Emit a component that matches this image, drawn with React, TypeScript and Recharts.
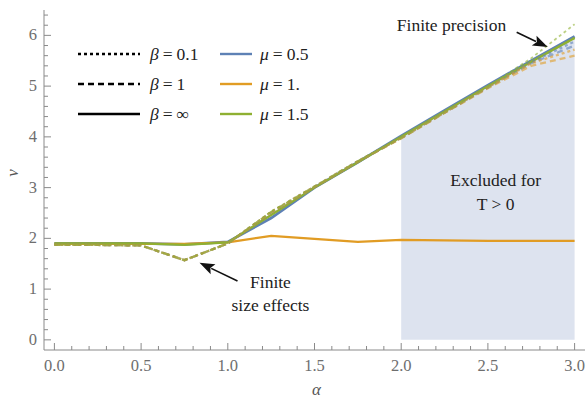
import React from 'react';
import { ComposedChart, Line, Area, XAxis, YAxis, Legend, ReferenceLine, ReferenceDot } from 'recharts';

const ALPHA = [0, 0.25, 0.5, 0.75, 1.0, 1.25, 1.5, 1.75, 2.0, 2.25, 2.5, 2.75, 3.0];

// beta = infinity (solid)
const NU_INF_M05 = [1.9, 1.9, 1.9, 1.88, 1.93, 2.4, 3.0, 3.5, 4.02, 4.52, 5.02, 5.5, 5.98];
const NU_INF_M1 = [1.89, 1.89, 1.89, 1.89, 1.92, 2.05, 1.99, 1.93, 1.97, 1.96, 1.95, 1.95, 1.95];
const NU_INF_M15 = [1.9, 1.9, 1.9, 1.87, 1.92, 2.46, 3.0, 3.5, 4.0, 4.5, 5.0, 5.48, 5.95];
// beta = 0.1 (dotted)
const NU_B01_M05 = [1.87, 1.87, 1.86, 1.57, 1.9, 2.52, 3.02, 3.52, 3.98, 4.48, 4.98, 5.47, 5.88];
const NU_B01_M1 = [1.87, 1.87, 1.86, 1.57, 1.9, 2.52, 3.02, 3.52, 3.98, 4.48, 4.98, 5.45, 5.72];
const NU_B01_M15 = [1.87, 1.87, 1.86, 1.57, 1.9, 2.53, 3.02, 3.52, 3.99, 4.49, 4.99, 5.55, 6.22];
// beta = 1 (dashed)
const NU_B1_M05 = [1.87, 1.87, 1.86, 1.57, 1.9, 2.51, 3.01, 3.51, 3.98, 4.48, 4.97, 5.45, 5.8];
const NU_B1_M1 = [1.87, 1.87, 1.86, 1.57, 1.9, 2.51, 3.01, 3.51, 3.97, 4.47, 4.96, 5.4, 5.6];
const NU_B1_M15 = [1.87, 1.87, 1.86, 1.57, 1.9, 2.52, 3.02, 3.52, 3.98, 4.48, 4.98, 5.48, 5.95];
// excluded region (alpha >= 2)
const SHADE = [null, null, null, null, null, null, null, null, 4.02, 4.52, 5.02, 5.5, 5.98];

const X_MAJOR = [0, 0.5, 1.0, 1.5, 2.0, 2.5, 3.0];
const Y_MAJOR = [0, 1, 2, 3, 4, 5, 6];

const xTicks = Array.from({ length: 31 }, (_, i) => +(i * 0.1).toFixed(1));
const yTicks = Array.from({ length: 33 }, (_, i) => +(i * 0.2).toFixed(1));

const rows = ALPHA.map((a, i) => ({
  alpha: a,
  infM05: NU_INF_M05[i], infM1: NU_INF_M1[i], infM15: NU_INF_M15[i],
  b01M05: NU_B01_M05[i], b01M1: NU_B01_M1[i], b01M15: NU_B01_M15[i],
  b1M05: NU_B1_M05[i], b1M1: NU_B1_M1[i], b1M15: NU_B1_M15[i],
  shade: SHADE[i],
}));

const BLUE = '#5E81B5';
const ORANGE = '#E19C24';
const GREEN = '#8FB032';
const FRAME = '#8a8a8a';
const FONT = 'Liberation Serif';
const DOTTED = '3 3';
const DASHED = '6 4';

const isMajor = (v: number, list: number[]) => list.some((m) => Math.abs(m - v) < 1e-6);

function BottomTick({ x, y, payload }: any) {
  const major = isMajor(payload.value, X_MAJOR);
  return (
    <g>
      <line x1={x} x2={x} y1={y} y2={y - (major ? 7 : 4)} stroke={FRAME} />
      {major && (
        <text x={x} y={y + 21} textAnchor="middle" fontFamily={FONT} fontSize={16.5} fill="#6e6e6e">
          {payload.value.toFixed(1)}
        </text>
      )}
    </g>
  );
}

function TopTick({ x, y, payload }: any) {
  const major = isMajor(payload.value, X_MAJOR);
  return <line x1={x} x2={x} y1={y} y2={y + (major ? 7 : 4)} stroke={FRAME} />;
}

function LeftTick({ x, y, payload }: any) {
  const major = isMajor(payload.value, Y_MAJOR);
  return (
    <g>
      <line x1={x} x2={x + (major ? 7 : 4)} y1={y} y2={y} stroke={FRAME} />
      {major && (
        <text x={x - 7} y={y + 5} textAnchor="end" fontFamily={FONT} fontSize={16.5} fill="#6e6e6e">
          {payload.value}
        </text>
      )}
    </g>
  );
}

function RightTick({ x, y, payload }: any) {
  const major = isMajor(payload.value, Y_MAJOR);
  return <line x1={x} x2={x - (major ? 7 : 4)} y1={y} y2={y} stroke={FRAME} />;
}

function XLabel({ viewBox }: any) {
  const cx = viewBox.x + viewBox.width / 2 + 2;
  return (
    <text x={cx} y={viewBox.y + viewBox.height - 3} textAnchor="middle"
      fontFamily={FONT} fontStyle="italic" fontSize={17} fill="#555">
      α
    </text>
  );
}

function YLabel({ viewBox }: any) {
  const cx = viewBox.x + 13;
  const cy = viewBox.y + viewBox.height / 2 - 7;
  return (
    <text x={cx} y={cy} transform={`rotate(-90 ${cx} ${cy})`} textAnchor="middle" dy={5}
      fontFamily={FONT} fontStyle="italic" fontSize={17} fill="#555">
      ν
    </text>
  );
}

function Arrow(props: any) {
  const { x1, y1, x2, y2 } = props;
  const dx = x2 - x1;
  const dy = y2 - y1;
  const len = Math.sqrt(dx * dx + dy * dy);
  const ux = dx / len;
  const uy = dy / len;
  const hl = 15;
  const hw = 5.5;
  const bx = x2 - ux * hl;
  const by = y2 - uy * hl;
  return (
    <g>
      <line x1={x1} y1={y1} x2={bx + ux * 2} y2={by + uy * 2} stroke="#111" strokeWidth={1.6} />
      <polygon
        points={`${x2},${y2} ${bx - uy * hw},${by + ux * hw} ${bx + ux * 3},${by + uy * 3} ${bx + uy * hw},${by - ux * hw}`}
        fill="#111"
      />
    </g>
  );
}

const textShape = (lines: string[], gap: number) => (p: any) => (
  <text x={p.cx} y={p.cy} textAnchor="middle" fontFamily={FONT} fontSize={17.5} fill="#222">
    {lines.map((l, i) => (
      <tspan key={i} x={p.cx} dy={i === 0 ? -((lines.length - 1) * gap) / 2 + 5 : gap}>
        {l}
      </tspan>
    ))}
  </text>
);

const betaItems = [
  { label: '0.1', dash: DOTTED },
  { label: '1', dash: DASHED },
  { label: '∞', dash: undefined },
];
const muItems = [
  { label: '0.5', color: BLUE },
  { label: '1.', color: ORANGE },
  { label: '1.5', color: GREEN },
];

function LegendBox() {
  return (
    <svg width={240} height={80}>
      {betaItems.map((b, i) => (
        <g key={b.label}>
          <line x1={0} x2={62} y1={10 + i * 30} y2={10 + i * 30} stroke="#000" strokeWidth={2.4} strokeDasharray={b.dash} />
          <text x={72} y={16 + i * 30} fontFamily={FONT} fontSize={17.5} fill="#222">
            <tspan fontStyle="italic">β</tspan>
            <tspan dx={4}>=</tspan>
            <tspan dx={4}>{b.label}</tspan>
          </text>
        </g>
      ))}
      {muItems.map((m, i) => (
        <g key={m.label}>
          <line x1={142} x2={174} y1={10 + i * 30} y2={10 + i * 30} stroke={m.color} strokeWidth={2.4} />
          <text x={182} y={16 + i * 30} fontFamily={FONT} fontSize={17.5} fill="#222">
            <tspan fontStyle="italic">μ</tspan>
            <tspan dx={4}>=</tspan>
            <tspan dx={4}>{m.label}</tspan>
          </text>
        </g>
      ))}
    </svg>
  );
}

export default function App() {
  const common = { type: 'linear' as const, dot: false, activeDot: false, isAnimationActive: false, strokeWidth: 2.3 };
  const faded = { ...common, strokeOpacity: 0.6 };
  return (
    <div style={{ position: 'absolute', left: 0, top: 0, background: '#fff' }}>
      <ComposedChart width={587} height={398} data={rows} margin={{ top: 10, right: 2, bottom: 0, left: 0 }}>
        <XAxis dataKey="alpha" type="number" domain={[-0.06, 3.06]} ticks={xTicks} interval={0}
          tick={<BottomTick />} tickLine={false} tickSize={0} tickMargin={0} height={48}
          axisLine={{ stroke: FRAME }} allowDataOverflow label={XLabel} />
        <XAxis xAxisId="top" orientation="top" type="number" domain={[-0.06, 3.06]} ticks={xTicks} interval={0}
          tick={<TopTick />} tickLine={false} tickSize={0} tickMargin={0} height={0}
          axisLine={{ stroke: FRAME }} allowDataOverflow />
        <YAxis type="number" domain={[-0.2, 6.5]} ticks={yTicks} interval={0} width={44}
          tick={<LeftTick />} tickLine={false} tickSize={0} tickMargin={0}
          axisLine={{ stroke: FRAME }} allowDataOverflow label={YLabel} />
        <YAxis yAxisId="right" orientation="right" type="number" domain={[-0.2, 6.5]} ticks={yTicks} interval={0} width={0}
          tick={<RightTick />} tickLine={false} tickSize={0} tickMargin={0}
          axisLine={{ stroke: FRAME }} allowDataOverflow />
        <Area dataKey="shade" type="linear" fill="#dde3ef" fillOpacity={1} stroke="none" baseValue={0}
          isAnimationActive={false} dot={false} activeDot={false} />

        <Line dataKey="infM05" stroke={BLUE} {...common} strokeWidth={2.8} />
        <Line dataKey="infM1" stroke={ORANGE} {...common} />
        <Line dataKey="infM15" stroke={GREEN} {...common} />
        <Line dataKey="b1M05" stroke={BLUE} strokeDasharray={DASHED} {...faded} />
        <Line dataKey="b1M1" stroke={ORANGE} strokeDasharray={DASHED} {...faded} />
        <Line dataKey="b1M15" stroke={GREEN} strokeDasharray={DASHED} {...faded} />
        <Line dataKey="b01M05" stroke={BLUE} strokeDasharray={DOTTED} {...faded} />
        <Line dataKey="b01M1" stroke={ORANGE} strokeDasharray={DOTTED} {...faded} />
        <Line dataKey="b01M15" stroke={GREEN} strokeDasharray={DOTTED} {...faded} strokeWidth={1.8} />

        <ReferenceLine segment={[{ x: 1.056, y: 1.16 }, { x: 0.837, y: 1.52 }]} shape={Arrow} ifOverflow="visible" />
        <ReferenceLine segment={[{ x: 2.666, y: 6.06 }, { x: 2.845, y: 5.77 }]} shape={Arrow} ifOverflow="visible" />
        <ReferenceDot x={1.246} y={0.9} r={0} shape={textShape(['Finite', 'size effects'], 23)} ifOverflow="visible" />
        <ReferenceDot x={2.545} y={2.9} r={0} shape={textShape(['Excluded for', 'T > 0'], 24)} ifOverflow="visible" />
        <ReferenceDot x={2.29} y={6.18} r={0} shape={textShape(['Finite precision'], 0)} ifOverflow="visible" />

        <Legend verticalAlign="middle" align="center" layout="horizontal" content={<LegendBox />}
          wrapperStyle={{ position: 'absolute', left: 78, top: 44, width: 240, height: 80 }} />
      </ComposedChart>
    </div>
  );
}
